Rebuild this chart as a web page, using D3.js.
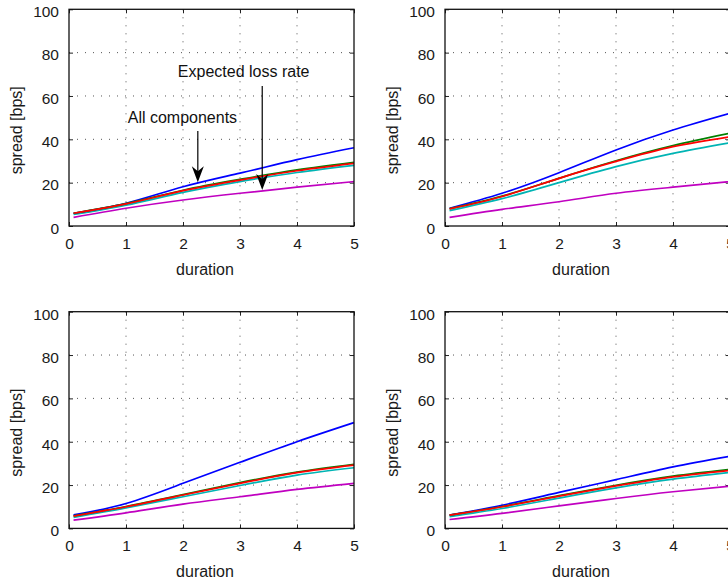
<!DOCTYPE html>
<html>
<head>
<meta charset="utf-8">
<script src="https://cdn.jsdelivr.net/npm/d3@7"></script>
<style>
body { margin: 0; background: #fff; }
svg { display: block; font-family: "Liberation Sans", Arial, sans-serif; }
</style>
</head>
<body>
<div id="chart"></div>
<script>
const width = 728
const height = 588

// duration grid where the curves were read
const durations = [0.08, 1, 2, 3, 4, 5]
const x_ticks = [0, 1, 2, 3, 4, 5]
const y_ticks = [0, 20, 40, 60, 80, 100]

// top left
const p1_blue = [5.9, 10.5, 18.1, 24.4, 30.6, 36.1]
const p1_green = [5.9, 10.3, 16.5, 21.5, 25.9, 29.4]
const p1_red = [5.9, 10.2, 16.3, 21.2, 25.5, 28.9]
const p1_cyan = [5.3, 9.6, 15.5, 20.5, 24.7, 28.0]
const p1_magenta = [4.0, 8.2, 12.0, 15.1, 17.9, 20.5]
// top right
const p2_blue = [8.2, 15.1, 24.6, 35.1, 44.3, 52.0]
const p2_green = [8.0, 13.8, 22.0, 30.1, 37.1, 42.8]
const p2_red = [7.9, 13.6, 22.0, 29.8, 36.6, 41.2]
const p2_cyan = [7.1, 12.6, 20.0, 27.4, 33.5, 38.4]
const p2_magenta = [4.0, 7.7, 11.2, 15.1, 17.9, 20.5]
// bottom left
const p3_blue = [6.2, 11.5, 20.8, 30.5, 40.0, 48.8]
const p3_green = [5.8, 10.1, 15.6, 21.1, 26.0, 29.6]
const p3_red = [5.7, 10.0, 15.4, 20.8, 25.7, 29.2]
const p3_cyan = [5.1, 9.4, 14.6, 19.8, 24.6, 28.0]
const p3_magenta = [3.8, 7.2, 11.2, 14.6, 18.0, 20.8]
// bottom right
const p4_blue = [6.1, 10.7, 16.6, 22.5, 28.4, 33.3]
const p4_green = [6.1, 10.1, 15.1, 19.9, 24.1, 27.2]
const p4_red = [6.1, 10.0, 14.9, 19.6, 23.8, 26.8]
const p4_cyan = [5.4, 9.2, 14.0, 18.7, 22.7, 25.8]
const p4_magenta = [4.1, 6.9, 10.4, 13.8, 16.9, 19.5]

const series_colors = ['#c000c0', '#00b4b4', '#0000ff', '#008000', '#ff0000']

const panels = [
    {left: 69, top: 9.3, series: [p1_magenta, p1_cyan, p1_blue, p1_green, p1_red], notes: true},
    {left: 445, top: 9.3, series: [p2_magenta, p2_cyan, p2_blue, p2_green, p2_red]},
    {left: 69, top: 311.7, series: [p3_magenta, p3_cyan, p3_blue, p3_green, p3_red]},
    {left: 445, top: 311.7, series: [p4_magenta, p4_cyan, p4_blue, p4_green, p4_red]}
]
const pw = 285
const ph = 216.7
const tick_font = 15.5
const label_font = 16

document.addEventListener('DOMContentLoaded', function ()
{
const svg = d3.select("#chart")
    .append("svg")
    .attr("width", width)
    .attr("height", height)

const x = d3.scaleLinear().domain([0, 5]).range([0, pw])
const y = d3.scaleLinear().domain([0, 100]).range([ph, 0])

const line = d3.line()
    .x((d, i) => x(durations[i]))
    .y(d => y(d))
    .curve(d3.curveNatural)

panels.forEach(p => {
    const g = svg.append("g")
        .attr("transform", `translate(${p.left},${p.top})`)

    /* grid */
    g.selectAll(".vgrid")
        .data(x_ticks.slice(1, -1))
        .enter()
        .append("line")
        .attr("x1", d => x(d)).attr("x2", d => x(d))
        .attr("y1", 0).attr("y2", ph)
        .attr("stroke", "#555")
        .attr("stroke-width", 1)
        .attr("stroke-dasharray", "1,7")
    g.selectAll(".hgrid")
        .data(y_ticks.slice(1, -1))
        .enter()
        .append("line")
        .attr("x1", 0).attr("x2", pw)
        .attr("y1", d => y(d)).attr("y2", d => y(d))
        .attr("stroke", "#555")
        .attr("stroke-width", 1)
        .attr("stroke-dasharray", "1,7")

    /* axes, ticks pointing inward and mirrored */
    g.append("g")
        .attr("transform", `translate(0,${ph})`)
        .call(d3.axisBottom(x).tickValues(x_ticks).tickFormat(d3.format("d")).tickSizeInner(-4).tickSizeOuter(0).tickPadding(12))
    g.append("g")
        .call(d3.axisTop(x).tickValues(x_ticks).tickSizeInner(-4).tickSizeOuter(0).tickFormat(""))
    g.append("g")
        .attr("class", "yaxis")
        .call(d3.axisLeft(y).tickValues(y_ticks).tickFormat(d3.format("d")).tickSizeInner(-4).tickSizeOuter(0).tickPadding(10))
    g.append("g")
        .attr("transform", `translate(${pw},0)`)
        .call(d3.axisRight(y).tickValues(y_ticks).tickSizeInner(-4).tickSizeOuter(0).tickFormat(""))
    g.selectAll(".domain").remove()
    g.selectAll(".tick text")
        .attr("font-family", "Liberation Sans, Arial, sans-serif")
        .attr("font-size", tick_font)
        .attr("fill", "#1a1a1a")
    g.selectAll(".yaxis .tick text").attr("dy", "7.3")
    g.selectAll(".tick line").attr("stroke", "#222")

    /* curves */
    g.selectAll(".curve")
        .data(p.series)
        .enter()
        .append("path")
        .attr("d", line)
        .attr("fill", "none")
        .attr("stroke", (_, i) => series_colors[i])
        .attr("stroke-width", 1.7)

    /* frame */
    g.append("rect")
        .attr("width", pw)
        .attr("height", ph)
        .attr("fill", "none")
        .attr("stroke", "#111")
        .attr("stroke-width", 1.3)

    /* labels */
    g.append("text")
        .attr("x", 136)
        .attr("y", ph + 49)
        .attr("font-size", label_font)
        .attr("fill", "#1a1a1a")
        .attr("text-anchor", "middle")
        .text("duration")
    g.append("text")
        .attr("transform", `translate(-47.3,${ph / 2 + 12.6}) rotate(-90)`)
        .attr("font-size", label_font)
        .attr("fill", "#1a1a1a")
        .attr("text-anchor", "middle")
        .text("spread [bps]")

    if (p.notes) {
        const notes = [
            {label: "All components", tx: 1.03, ty: 47.7, ax: 2.26, from: 43.8, to: 20.2},
            {label: "Expected loss rate", tx: 1.91, ty: 68.6, ax: 3.39, from: 64.6, to: 16.6}
        ]
        notes.forEach(n => {
            g.append("text")
                .attr("x", x(n.tx))
                .attr("y", y(n.ty))
                .attr("font-size", label_font)
                .attr("fill", "#111")
                .text(n.label)
            g.append("line")
                .attr("x1", x(n.ax)).attr("x2", x(n.ax))
                .attr("y1", y(n.from)).attr("y2", y(n.to) - 10)
                .attr("stroke", "#000")
                .attr("stroke-width", 1.2)
            const ax = x(n.ax)
            const ay = y(n.to)
            g.append("path")
                .attr("d", `M${ax},${ay} L${ax - 6},${ay - 16} L${ax},${ay - 11} L${ax + 6},${ay - 16} Z`)
                .attr("fill", "#000")
        })
    }
})
}, { once: true });
</script>
</body>
</html>
